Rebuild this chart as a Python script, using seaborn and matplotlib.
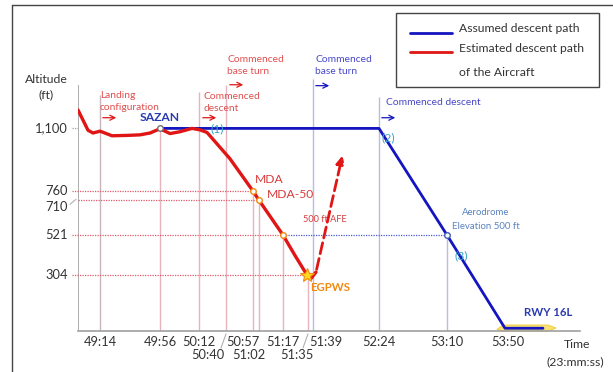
import matplotlib
matplotlib.use("Agg")
import matplotlib.pyplot as plt
import seaborn as sns
import pandas as pd
from matplotlib.patches import Rectangle, Polygon
from matplotlib.lines import Line2D

sns.set_theme(style="white")
plt.rcParams["font.family"] = ["Lato", "DejaVu Sans"]

# schematic time axis (not to scale in the original)
tick_labels = ["49:14", "49:56", "50:12", "50:40", "50:57", "51:02",
               "51:17", "51:35", "51:39", "52:24", "53:10", "53:50"]
tick_pos = [22, 82, 121, 148, 175, 181, 205, 230, 235, 301, 369, 427]
tick_row = [0, 0, 0, 1, 0, 1, 0, 1, 0, 0, 0, 0]
label_shift = [0, 0, 0, -18, -10, -10, 0, -11, 13, 0, 0, 3]

alt_levels = [1100, 760, 710, 521, 304]
alt_labels = ["1,100", "760", "710", "521", "304"]

# estimated descent path of the aircraft (red)
red_x = [0, 5, 10, 15, 22, 34, 49, 62, 72, 82, 92, 102, 114, 122, 129, 139,
         152, 175, 181, 205, 217, 229, 233, 238]
red_alt = [1200, 1145, 1090, 1075, 1085, 1060, 1062, 1065, 1075, 1098, 1072,
           1082, 1100, 1092, 1078, 1016, 935, 760, 710, 521, 410, 304, 285, 320]
# go-around after EGPWS (dashed)
ga_x = [238, 265]
ga_alt = [320, 967]

# assumed descent path (blue)
blue_x = [82, 301, 369, 427, 465]
blue_alt = [1100, 1100, 521, 15, 15]

RED = "#e01515"
BLUE = "#1414c0"
PINK = "#e6b4bf"
LAV = "#b9b9ea"
CYAN = "#3aa6c8"
ORANGE = "#f08a10"
TXT = "#333333"

fig = plt.figure(figsize=(6.13, 3.72), dpi=100)
ax = fig.add_axes([78 / 613, 1 - 331 / 372, (580 - 78) / 613, (331 - 40) / 372])
ax.set_xlim(0, 502)
ax.set_ylim(0, 1580)
for s in ["top", "right", "left"]:
    ax.spines[s].set_visible(False)
ax.spines["bottom"].set_color("#a0a0a0")
ax.spines["bottom"].set_linewidth(1.2)
ax.set_xticks([])
ax.set_yticks([])

# vertical event lines
vtops = [1283, 1100, 1300, 1337, 760, 710, 521, 304, 1370, 1272, 521, 0]
vcols = ["#c9b5bb", PINK, PINK, PINK, PINK, PINK, PINK, PINK, LAV, LAV, LAV, LAV]
ax.vlines(0, 0, 1337, color="#a0a0a0", lw=1.2)
for p, t, c in zip(tick_pos, vtops, vcols):
    if t > 0:
        ax.vlines(p, 0, t, color=c, lw=1)

# horizontal dotted reference lines
ref_end = [0, 175, 181, 205, 229]
for a, e in zip(alt_levels, ref_end):
    start = 0 if a == 710 else -6
    c = "#a0a0a0" if a == 1100 else "#e05a6a"
    ax.plot([start, e], [a, a], ls=(0, (1, 1)), color=c, lw=0.9, clip_on=False)
ax.plot([205, 369], [521, 521], ls=(0, (1, 1)), color="#4a5ad0", lw=0.9)
ax.plot([-8, -2], [688, 715], color="#b0b0b0", lw=0.8, clip_on=False)

# runway
ax.add_patch(Polygon([[419, 8], [425, 32], [470, 32], [478, 16], [470, 0], [425, 0]],
                     closed=True, facecolor="#f7e27a", edgecolor="#f2cf40", lw=0.8,
                     clip_on=False, zorder=2))

# paths
sns.lineplot(x=blue_x, y=blue_alt, sort=False, color=BLUE, lw=2, ax=ax, zorder=3)
sns.lineplot(x=red_x, y=red_alt, sort=False, color=RED, lw=2.4, ax=ax, zorder=4)
ax.annotate("", xy=(ga_x[1], ga_alt[1]), xytext=(ga_x[0], ga_alt[0]),
            arrowprops=dict(arrowstyle="-|>", color=RED, lw=2, ls=(0, (4, 1.8)),
                            mutation_scale=12), zorder=4)

# markers
ax.plot(82, 1100, "o", ms=4, mfc="white", mec="#707070", mew=1, zorder=5)
ax.plot([175, 181, 205], [760, 710, 521], "o", ms=4, mfc="white", mec=ORANGE,
        mew=1, zorder=5)
ax.plot(369, 521, "o", ms=4, mfc="white", mec="#4060b0", mew=1, zorder=5)
ax.plot(229, 304, "*", ms=10, mfc="#ffd820", mec=ORANGE, mew=0.8, zorder=6)

# event arrows
arrows = [(22, 1158, RED), (122, 1158, RED), (149, 1337, RED),
          (235, 1332, BLUE), (301, 1158, BLUE)]
for x0, y0, c in arrows:
    ax.annotate("", xy=(x0 + 19, y0), xytext=(x0, y0),
                arrowprops=dict(arrowstyle="->", color=c, lw=0.9, mutation_scale=9),
                annotation_clip=False)

fs = 7.4
ax.text(22, 1277, "Landing", color="#e05050", fontsize=fs, va="center", clip_on=False)
ax.text(22, 1212, "configuration", color="#e05050", fontsize=fs, va="center")
ax.text(126, 1272, "Commenced", color="#e05050", fontsize=fs, va="center")
ax.text(126, 1207, "descent", color="#e05050", fontsize=fs, va="center")
ax.text(149, 1473, "Commenced", color="#e05050", fontsize=fs, va="center")
ax.text(149, 1408, "base turn", color="#e05050", fontsize=fs, va="center")
ax.text(237, 1473, "Commenced", color="#4848c8", fontsize=fs, va="center")
ax.text(237, 1408, "base turn", color="#4848c8", fontsize=fs, va="center")
ax.text(308, 1239, "Commenced descent", color="#4848c8", fontsize=fs, va="center")
ax.text(82, 1158, "SAZAN", color="#2a3ab0", fontsize=8.7, fontweight="bold",
        ha="center", va="center")
ax.text(139, 1098, "(1)", color=CYAN, fontsize=8.7, ha="center", va="center", zorder=6)
ax.text(310, 1049, "(2)", color=CYAN, fontsize=8.7, ha="center", va="center")
ax.text(383, 408, "(3)", color=CYAN, fontsize=8.7, ha="center", va="center")
ax.text(177, 821, "MDA", color="#d83a3a", fontsize=8.7, va="center")
ax.text(189, 739, "MDA-50", color="#d83a3a", fontsize=8.7, va="center")
ax.text(225, 603, "500 ft AFE", color="#d83a3a", fontsize=6.6, va="center")
ax.text(232, 234, "EGPWS", color=ORANGE, fontsize=8.2, fontweight="bold", va="center")
ax.text(408, 641, "Aerodrome", color="#5a82c0", fontsize=6.9, ha="center", va="center")
ax.text(408, 565, "Elevation 500 ft", color="#5a82c0", fontsize=6.9, ha="center",
        va="center")
ax.text(470, 98, "RWY 16L", color="#2a3ab0", fontsize=8.2, fontweight="bold",
        ha="center", va="center")

# axis labels
label_alt = [1100, 760, 674, 521, 304]
for a, lab in zip(label_alt, alt_labels):
    ax.text(-10, a, lab, color=TXT, fontsize=9.3, ha="right", va="center")
ax.text(-32, 1364, "Altitude", color=TXT, fontsize=8.8, ha="center", va="center")
ax.text(-32, 1283, "(ft)", color=TXT, fontsize=8.8, ha="center", va="center")

for p, lab, r, sh in zip(tick_pos, tick_labels, tick_row, label_shift):
    yy = -60 if r == 0 else -130
    ax.text(p + sh, yy, lab, color=TXT, fontsize=9.3, ha="center", va="center",
            clip_on=False)
for p in [148, 230]:
    ax.plot([p - 5, p], [-92, -16], color="#b0b0b0", lw=0.8, clip_on=False)
ax.text(499, -76, "Time", color=TXT, fontsize=8.8, ha="center", va="center")
ax.text(497, -168, "(23:mm:ss)", color=TXT, fontsize=8.8, ha="center", va="center")

# legend box
fig.patches.append(Rectangle((396 / 613, 1 - 87 / 372), 203 / 613, 74 / 372,
                             transform=fig.transFigure, facecolor="white",
                             edgecolor="#444444", lw=1))
fig.lines.append(Line2D([410 / 613, 452 / 613], [1 - 33 / 372] * 2,
                        transform=fig.transFigure, color=BLUE, lw=2))
fig.lines.append(Line2D([410 / 613, 452 / 613], [1 - 52 / 372] * 2,
                        transform=fig.transFigure, color=RED, lw=2))
fig.text(459 / 613, 1 - 28 / 372, "Assumed descent path", fontsize=8.7, color=TXT,
         va="center")
fig.text(459 / 613, 1 - 48 / 372, "Estimated descent path", fontsize=8.7, color=TXT,
         va="center")
fig.text(459 / 613, 1 - 72 / 372, "of the Aircraft", fontsize=8.7, color=TXT,
         va="center")

# outer frame
fig.lines.append(Line2D([12 / 613, 12 / 613], [0, 1 - 5 / 372],
                        transform=fig.transFigure, color="#444444", lw=1))
fig.lines.append(Line2D([12 / 613, 1], [1 - 5 / 372] * 2,
                        transform=fig.transFigure, color="#444444", lw=1))

fig.savefig("out.png", dpi=100)
